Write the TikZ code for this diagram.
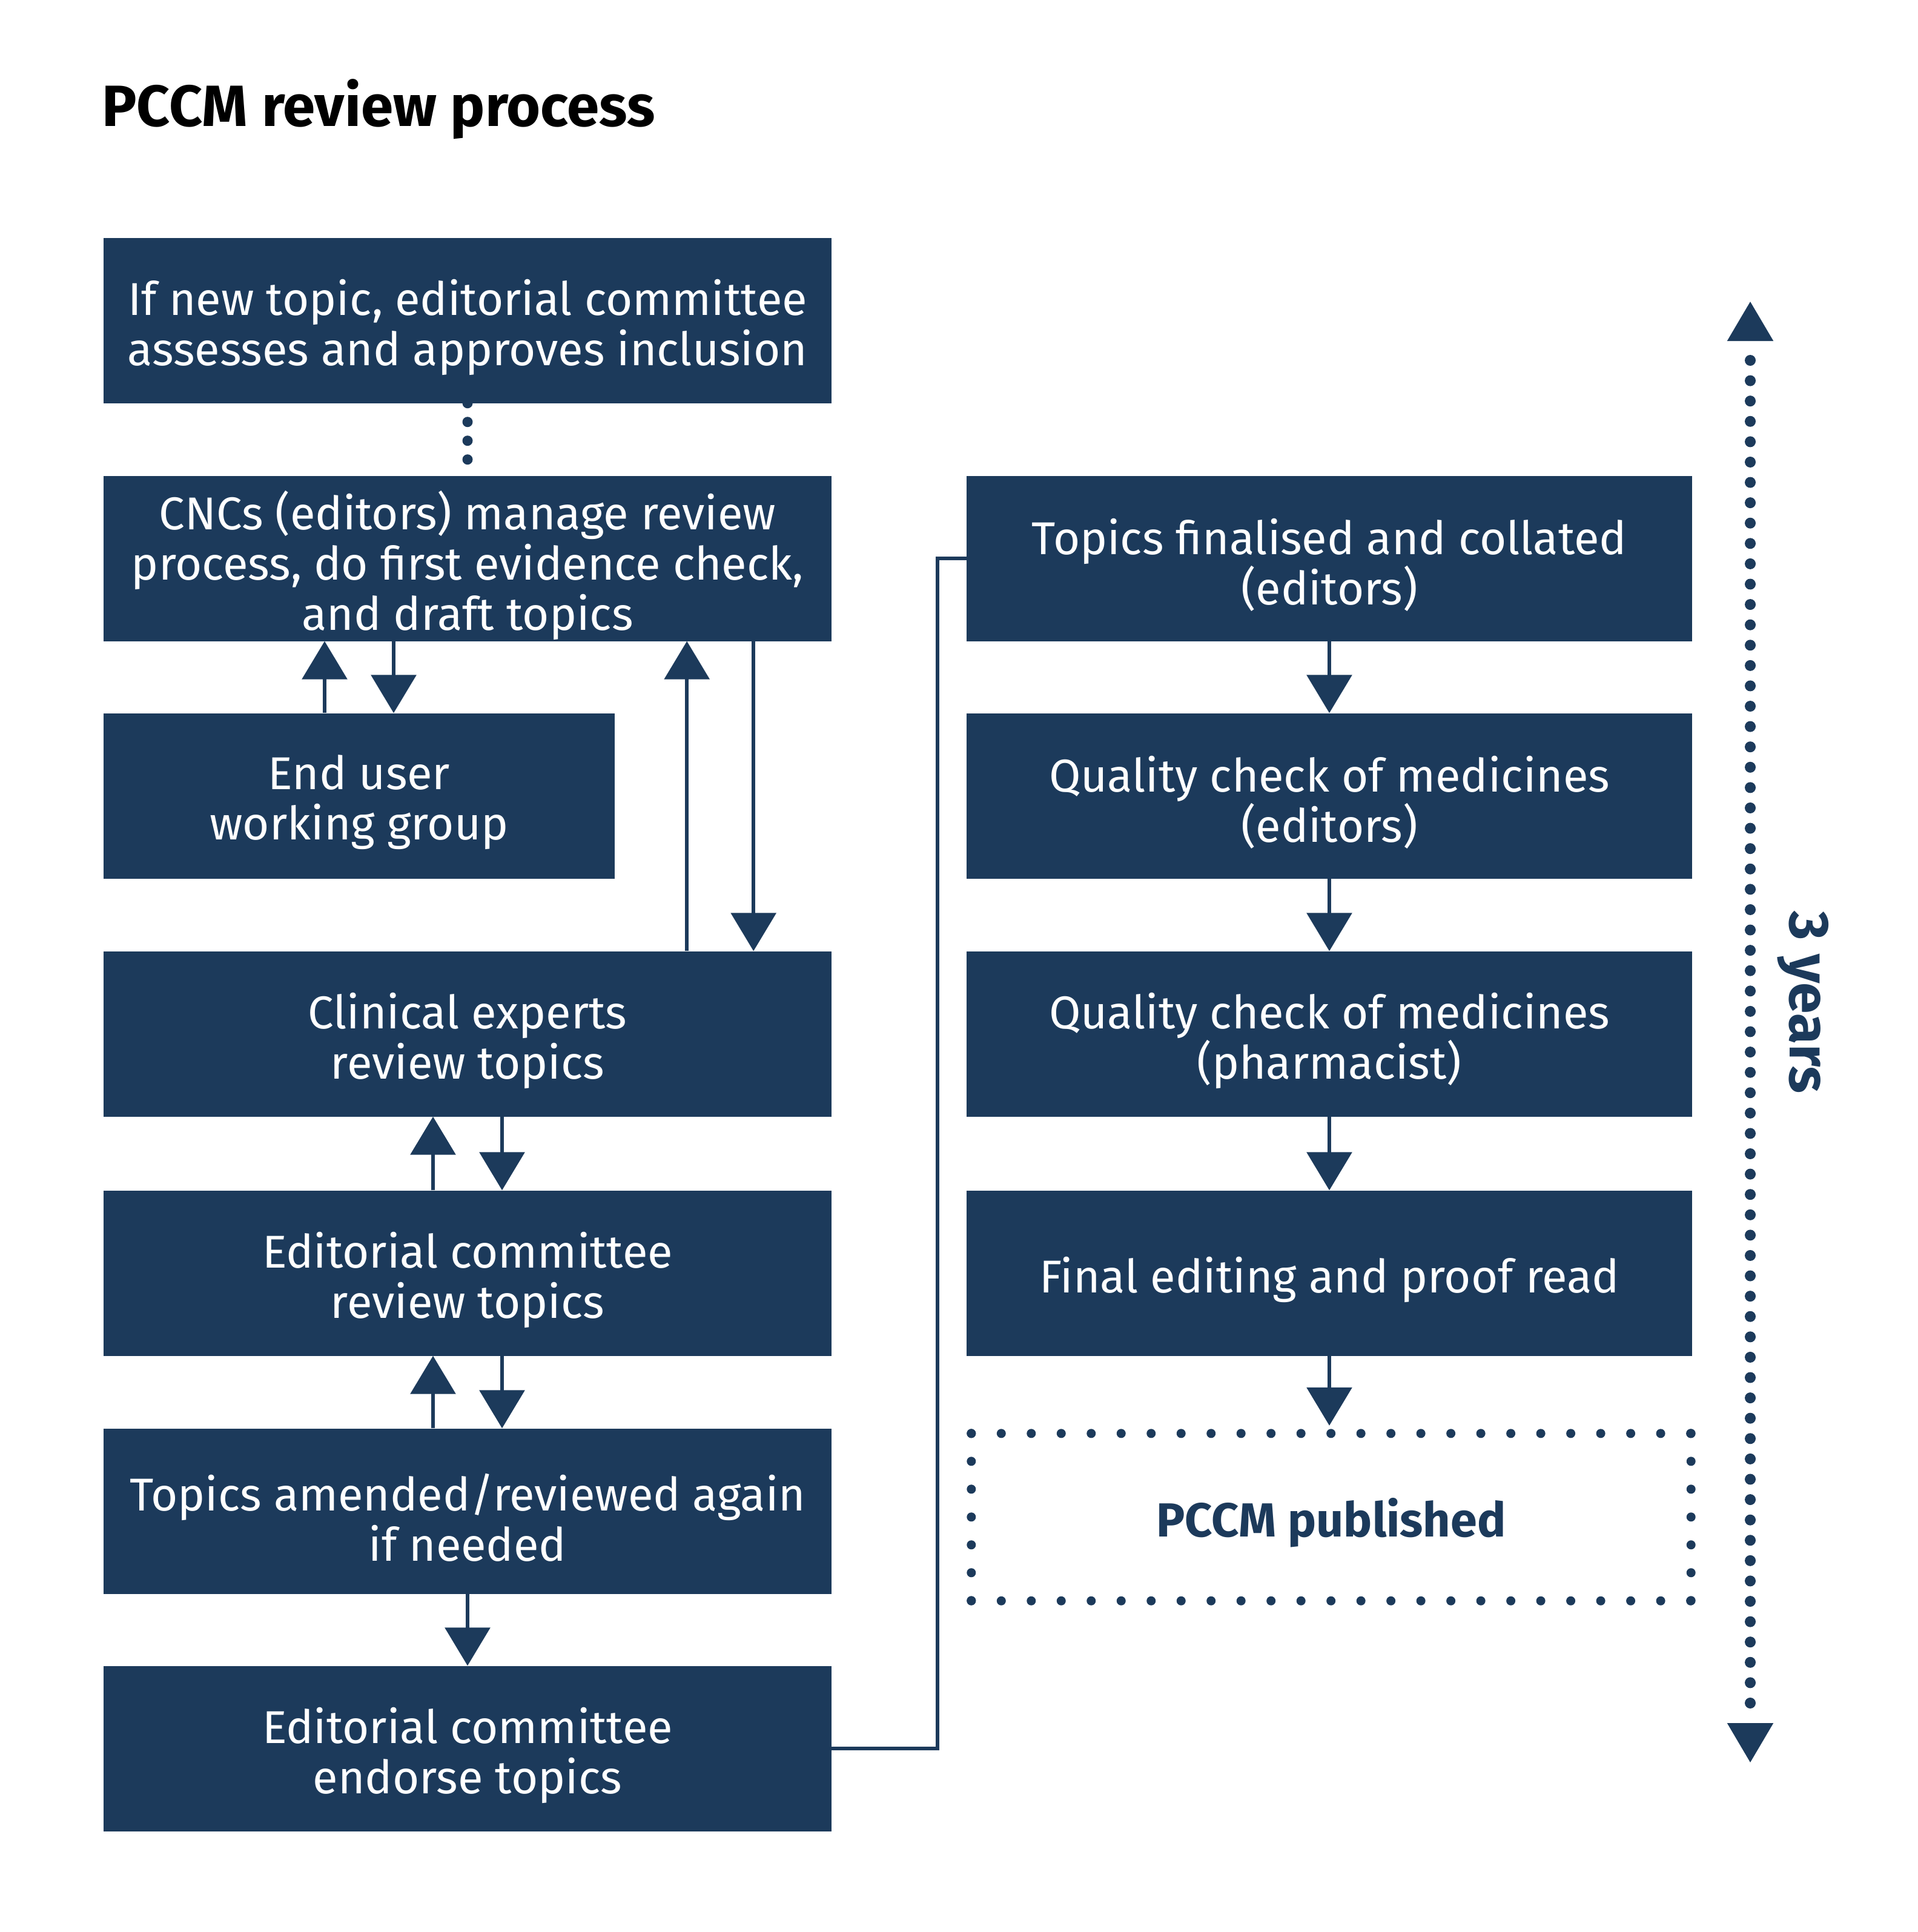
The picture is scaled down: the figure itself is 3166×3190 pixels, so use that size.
\documentclass[tikz,border=0pt]{standalone}
\usepackage{fontspec}
\setmainfont{Fira Sans}
\usetikzlibrary{arrows.meta}
\definecolor{navy}{RGB}{28,58,91}
\begin{document}
\begin{tikzpicture}[x=1pt,y=-1pt,
  box/.style={fill=navy, inner sep=0pt, minimum height=273pt},
  lbox/.style={box, minimum width=1202pt},
  rbox/.style={box, minimum width=1198pt},
  btext/.style={text=white, inner sep=0pt, align=center, font=\fontsize{76pt}{83pt}\selectfont},
  arr/.style={draw=navy, line width=6.5pt, -{Triangle[width=74pt,length=63pt]}},
  conn/.style={draw=navy, line width=6.5pt},
  dotconn/.style={draw=navy, line width=17pt, line cap=round, dash pattern=on 0pt off 31pt},
  yeardots/.style={draw=navy, line width=18pt, line cap=round, dash pattern=on 0pt off 33.59pt},
  pubdotsh/.style={draw=navy, line width=15pt, line cap=round, dash pattern=on 0pt off 49.49pt},
  pubdotsv/.style={draw=navy, line width=15pt, line cap=round, dash pattern=on 0pt off 45.99pt},
  headtip/.style={draw=navy, line width=6pt, -{Triangle[width=75pt,length=65pt]}}
]
\useasboundingbox (0,0) rectangle (3166,3190);

% title
\node[anchor=base west, inner sep=0pt, font=\fontsize{96pt}{106pt}\selectfont\bfseries] (title) at (168,208) {PCCM review process};

% left column boxes
\node[lbox] (b1)  at (772,529)  {};
\node[lbox] (cnc) at (772,922)  {};
\node[box, minimum width=844pt] (eu) at (593,1314) {};
\node[lbox] (ce)  at (772,1707) {};
\node[lbox] (ecr) at (772,2102) {};
\node[lbox] (ta)  at (772,2495) {};
\node[lbox] (ece) at (772,2887) {};

% right column boxes
\node[rbox] (tf)  at (2195,922)  {};
\node[rbox] (qc1) at (2195,1314) {};
\node[rbox] (qc2) at (2195,1707) {};
\node[rbox] (fe)  at (2195,2102) {};
\node[inner sep=0pt, minimum width=1188pt, minimum height=276pt] (pub) at (2198,2505) {};

% box texts
\node[btext] (b1t)  at ([yshift=-11pt]b1.center)  {If new topic, editorial committee\\assesses and approves inclusion};
\node[btext] (cnct) at ([yshift=-11pt]cnc.center) {CNCs (editors) manage review\\process, do first evidence check,\\and draft topics};
\node[btext] (eut)  at ([yshift=-11pt]eu.center)  {End user\\working group};
\node[btext] (cet)  at ([yshift=-11pt]ce.center)  {Clinical experts\\review topics};
\node[btext] (ecrt) at ([yshift=-11pt]ecr.center) {Editorial committee\\review topics};
\node[btext] (tat)  at ([yshift=-11pt]ta.center)  {Topics amended/reviewed again\\if needed};
\node[btext] (ecet) at ([yshift=-11pt]ece.center) {Editorial committee\\endorse topics};
\node[btext] (tft)  at ([yshift=-11pt]tf.center)  {Topics finalised and collated\\(editors)};
\node[btext] (qc1t) at ([yshift=-11pt]qc1.center) {Quality check of medicines\\(editors)};
\node[btext] (qc2t) at ([yshift=-11pt]qc2.center) {Quality check of medicines\\(pharmacist)};
\node[btext] (fet)  at ([yshift=-11pt]fe.center)  {Final editing and proof read};
\node[inner sep=0pt, text=navy, font=\fontsize{79pt}{85pt}\selectfont\bfseries] (pubt) at ([yshift=-9pt]pub.center) {PCCM published};

% dotted border of published box
\draw[pubdotsh] (pub.north west) -- (pub.north east);
\draw[pubdotsh] (pub.south west) -- (pub.south east);
\draw[pubdotsv] (pub.north west) -- (pub.south west);
\draw[pubdotsv] (pub.north east) -- (pub.south east);

% connectors left column
\draw[dotconn] (b1.south) -- (cnc.north);
\draw[arr] ([xshift=-57pt]eu.north) -- ([xshift=-57pt]eu.north |- cnc.south);
\draw[arr] ([xshift=57pt]eu.north |- cnc.south) -- ([xshift=57pt]eu.north);
\draw[arr] ([xshift=-239pt]ce.north east) -- ([xshift=-239pt]ce.north east |- cnc.south);
\draw[arr] ([xshift=-129pt]ce.north east |- cnc.south) -- ([xshift=-129pt]ce.north east);
\draw[arr] ([xshift=-57pt]ecr.north) -- ([xshift=-57pt]ce.south);
\draw[arr] ([xshift=57pt]ce.south) -- ([xshift=57pt]ecr.north);
\draw[arr] ([xshift=-57pt]ta.north) -- ([xshift=-57pt]ecr.south);
\draw[arr] ([xshift=57pt]ecr.south) -- ([xshift=57pt]ta.north);
\draw[arr] (ta.south) -- (ece.north);

% link to right column
\draw[conn] (ece.east) -- ++(175,0) |- (tf.west);

% right column arrows
\draw[arr] (tf.south) -- (qc1.north);
\draw[arr] (qc1.south) -- (qc2.north);
\draw[arr] (qc2.south) -- (fe.north);
\draw[arr] (fe.south) -- ([yshift=13pt]fe.south |- pub.north);

% 3 years arrow
\coordinate (yt) at (2890,498);
\coordinate (yb) at (2890,2910);
\draw[yeardots, shorten <=97pt, shorten >=97pt] (yt) -- (yb);
\draw[headtip] ([yshift=-65pt]yt) -- (yt);
\draw[headtip] ([yshift=65pt]yb) -- (yb);
\node[rotate=-90, inner sep=0pt, text=navy, font=\fontsize{93pt}{100pt}\selectfont\bfseries] (years) at (2977,1655) {3 years};
\end{tikzpicture}
\end{document}
